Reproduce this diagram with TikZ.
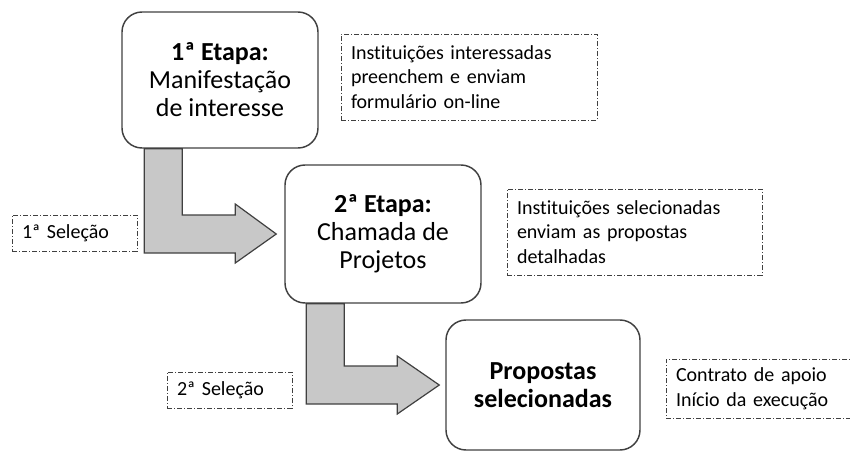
\documentclass[tikz,border=0pt]{standalone}
\usepackage{fontspec}
\setmainfont{Carlito}[Ligatures={NoCommon}]
\usetikzlibrary{calc}
\definecolor{arrowgray}{RGB}{200,200,200}
\definecolor{linegray}{RGB}{64,64,64}
\begin{document}
\begin{tikzpicture}[x=0.75pt, y=-0.75pt,
	etapa/.style={draw=linegray, line width=1.1pt, rounded corners=15pt, align=center, font=\fontsize{19.5}{21}\selectfont},
	nota/.style={draw=linegray, line width=0.7pt, dash pattern=on 3.75pt off 1.5pt on 0.75pt off 1.5pt, inner xsep=7.5pt, align=left, font=\fontsize{15}{18.5}\selectfont},
	seta/.style={draw=linegray, line width=0.9pt, fill=arrowgray, line join=miter}]
	\useasboundingbox (0,0) rectangle (850,451);

	% etapas
	\node (e1) [etapa, minimum width=147pt, minimum height=102pt] at (220,80) {\textbf{1ª Etapa:}\\Manifestação\\de interesse};
	\node (e2) [etapa, minimum width=147pt, minimum height=103.5pt] at (383,234) {\textbf{2ª Etapa:}\\Chamada de\\Projetos};
	\node (e3) [etapa, minimum width=145.5pt, minimum height=97.5pt] at (543,385) {\textbf{Propostas}\\\textbf{selecionadas}};

	% notas
	\node (n1) [nota, text width=177pt, minimum height=64.5pt] at (469,77) {Instituições interessadas\\preenchem e enviam\\formulário on-line};
	\node (n2) [nota, text width=176.25pt, minimum height=64.5pt] at (634.5,232) {Instituições selecionadas\\enviam as propostas\\detalhadas};
	\node (n3) [nota, text width=124.5pt, minimum height=44.25pt] at (759,388.5) {Contrato de apoio\\Início da execução};
	\node (s1) [nota, text width=78.75pt, minimum height=27pt] at (74.5,233) {1ª Seleção};
	\node (s2) [nota, text width=78.75pt, minimum height=27pt] at (229.5,390) {2ª Seleção};

	% setas
	\coordinate (t1) at ([xshift=-6pt]e2.west);
	\coordinate (t2) at ([xshift=-4.5pt]e3.west);
	\draw[seta] ($(e1.south west)+(23,0)$) |- ($(t1)+(-41,19)$) -- ($(t1)+(-41,29)$) -- (t1)
		-- ($(t1)+(-41,-30)$) -- ($(t1)+(-41,-19)$) -| ($(e1.south west)+(61,0)$) -- cycle;
	\draw[seta] ($(e2.south west)+(22,0)$) |- ($(t2)+(-42,19)$) -- ($(t2)+(-42,29)$) -- (t2)
		-- ($(t2)+(-42,-29)$) -- ($(t2)+(-42,-19)$) -| ($(e2.south west)+(60,0)$) -- cycle;
\end{tikzpicture}
\end{document}
